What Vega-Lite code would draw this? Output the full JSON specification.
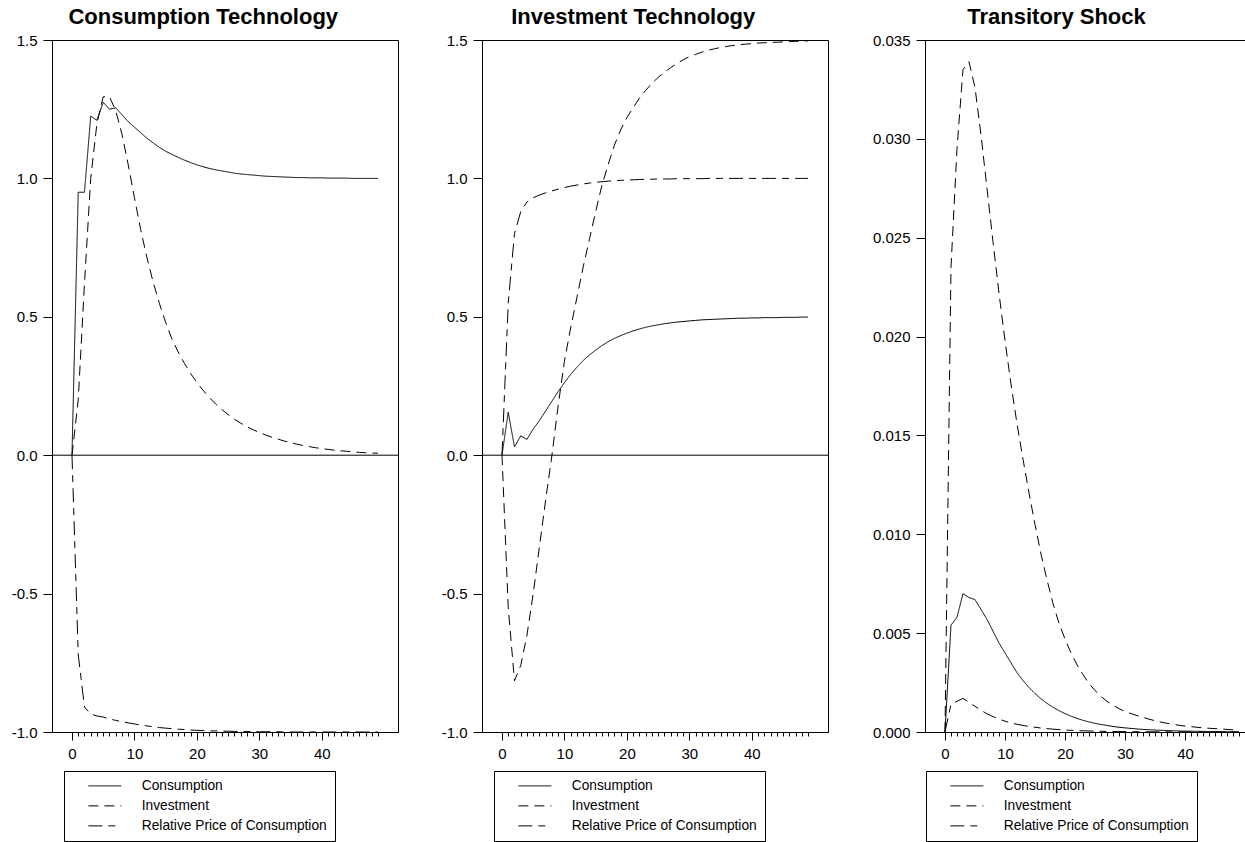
{
  "$schema": "https://vega.github.io/schema/vega-lite/v6.json",
  "padding": {"left": 7, "top": 5, "right": 0, "bottom": 0},
  "background": "white",
  "config": {
    "view": {"stroke": "black", "strokeWidth": 1},
    "font": "Liberation Sans",
    "axis": {"domainColor": "black", "tickColor": "black", "labelColor": "black", "grid": false, "title": null, "labelFontSize": 15, "labelFont": "Liberation Sans", "domainWidth": 1, "tickWidth": 1},
    "title": {"fontSize": 22, "fontWeight": "bold", "font": "Liberation Sans", "color": "black", "anchor": "middle", "frame": "bounds", "offset": 4},
    "legend": {"orient": "none", "legendY": 731, "direction": "vertical", "title": null, "strokeColor": "black", "fillColor": "white", "padding": 8, "symbolType": "M-3,0L3,0", "symbolSize": 121, "symbolStrokeWidth": 1, "symbolStrokeColor": "black", "symbolOffset": 26, "labelOffset": 30, "labelFontSize": 13.75, "labelFont": "Liberation Sans", "labelColor": "black", "labelLimit": 400, "rowPadding": 5}
  },
  "datasets": {
    "ct": [
      {"t":0,"C":0,"I":0,"R":0},{"t":1,"C":0.95,"I":0.2,"R":-0.72},{"t":2,"C":0.95,"I":0.62,"R":-0.91},{"t":3,"C":1.225,"I":1.0,"R":-0.935},{"t":4,"C":1.21,"I":1.2,"R":-0.942},{"t":5,"C":1.275,"I":1.295,"R":-0.946},{"t":6,"C":1.25,"I":1.295,"R":-0.953},{"t":7,"C":1.255,"I":1.245,"R":-0.958},{"t":8,"C":1.23,"I":1.16,"R":-0.963},{"t":9,"C":1.205,"I":1.05,"R":-0.967},
      {"t":10,"C":1.185,"I":0.93,"R":-0.971},{"t":11,"C":1.165,"I":0.815,"R":-0.975},{"t":12,"C":1.145,"I":0.714,"R":-0.978},{"t":13,"C":1.128,"I":0.625,"R":-0.981},{"t":14,"C":1.112,"I":0.548,"R":-0.984},{"t":15,"C":1.098,"I":0.48,"R":-0.986},{"t":16,"C":1.087,"I":0.42,"R":-0.988},{"t":17,"C":1.076,"I":0.373,"R":-0.99},{"t":18,"C":1.066,"I":0.332,"R":-0.991},{"t":19,"C":1.057,"I":0.295,"R":-0.993},
      {"t":20,"C":1.049,"I":0.263,"R":-0.994},{"t":21,"C":1.042,"I":0.234,"R":-0.995},{"t":22,"C":1.036,"I":0.208,"R":-0.996},{"t":23,"C":1.031,"I":0.185,"R":-0.996},{"t":24,"C":1.027,"I":0.165,"R":-0.997},{"t":25,"C":1.023,"I":0.147,"R":-0.997},{"t":26,"C":1.019,"I":0.13,"R":-0.998},{"t":27,"C":1.016,"I":0.116,"R":-0.998},{"t":28,"C":1.014,"I":0.103,"R":-0.998},{"t":29,"C":1.012,"I":0.092,"R":-0.999},
      {"t":30,"C":1.01,"I":0.082,"R":-0.999},{"t":31,"C":1.008,"I":0.073,"R":-0.999},{"t":32,"C":1.007,"I":0.065,"R":-0.999},{"t":33,"C":1.006,"I":0.058,"R":-0.999},{"t":34,"C":1.005,"I":0.051,"R":-1},{"t":35,"C":1.004,"I":0.045,"R":-1},{"t":36,"C":1.003,"I":0.04,"R":-1},{"t":37,"C":1.003,"I":0.035,"R":-1},{"t":38,"C":1.002,"I":0.031,"R":-1},{"t":39,"C":1.002,"I":0.027,"R":-1},
      {"t":40,"C":1.002,"I":0.024,"R":-1},{"t":41,"C":1.001,"I":0.021,"R":-1},{"t":42,"C":1.001,"I":0.018,"R":-1},{"t":43,"C":1.001,"I":0.016,"R":-1},{"t":44,"C":1.001,"I":0.014,"R":-1},{"t":45,"C":1.0,"I":0.012,"R":-1},{"t":46,"C":1.0,"I":0.01,"R":-1},{"t":47,"C":1.0,"I":0.009,"R":-1},{"t":48,"C":1.0,"I":0.008,"R":-1},{"t":49,"C":1.0,"I":0.007,"R":-1}
    ],
    "it": [
      {"t":0,"C":0,"I":0,"R":0},{"t":1,"C":0.155,"I":-0.55,"R":0.55},{"t":2,"C":0.03,"I":-0.815,"R":0.8},{"t":3,"C":0.07,"I":-0.76,"R":0.88},{"t":4,"C":0.057,"I":-0.65,"R":0.915},{"t":5,"C":0.095,"I":-0.5,"R":0.93},{"t":6,"C":0.125,"I":-0.33,"R":0.94},{"t":7,"C":0.16,"I":-0.16,"R":0.948},{"t":8,"C":0.195,"I":0.0,"R":0.955},{"t":9,"C":0.23,"I":0.18,"R":0.961},
      {"t":10,"C":0.262,"I":0.34,"R":0.967},{"t":11,"C":0.292,"I":0.46,"R":0.972},{"t":12,"C":0.318,"I":0.57,"R":0.976},{"t":13,"C":0.342,"I":0.68,"R":0.98},{"t":14,"C":0.362,"I":0.78,"R":0.983},{"t":15,"C":0.38,"I":0.88,"R":0.986},{"t":16,"C":0.396,"I":0.975,"R":0.988},{"t":17,"C":0.41,"I":1.05,"R":0.99},{"t":18,"C":0.422,"I":1.12,"R":0.992},{"t":19,"C":0.432,"I":1.175,"R":0.993},
      {"t":20,"C":0.441,"I":1.22,"R":0.994},{"t":21,"C":0.449,"I":1.255,"R":0.995},{"t":22,"C":0.456,"I":1.29,"R":0.996},{"t":23,"C":0.462,"I":1.318,"R":0.997},{"t":24,"C":0.467,"I":1.343,"R":0.997},{"t":25,"C":0.471,"I":1.365,"R":0.998},{"t":26,"C":0.475,"I":1.383,"R":0.998},{"t":27,"C":0.478,"I":1.4,"R":0.998},{"t":28,"C":0.481,"I":1.415,"R":0.999},{"t":29,"C":0.483,"I":1.428,"R":0.999},
      {"t":30,"C":0.485,"I":1.44,"R":0.999},{"t":31,"C":0.487,"I":1.448,"R":0.999},{"t":32,"C":0.489,"I":1.456,"R":0.999},{"t":33,"C":0.49,"I":1.463,"R":1},{"t":34,"C":0.491,"I":1.468,"R":1},{"t":35,"C":0.492,"I":1.473,"R":1},{"t":36,"C":0.493,"I":1.477,"R":1},{"t":37,"C":0.494,"I":1.48,"R":1},{"t":38,"C":0.495,"I":1.483,"R":1},{"t":39,"C":0.495,"I":1.485,"R":1},
      {"t":40,"C":0.496,"I":1.487,"R":1},{"t":41,"C":0.496,"I":1.489,"R":1},{"t":42,"C":0.497,"I":1.49,"R":1},{"t":43,"C":0.497,"I":1.491,"R":1},{"t":44,"C":0.497,"I":1.492,"R":1},{"t":45,"C":0.498,"I":1.493,"R":1},{"t":46,"C":0.498,"I":1.494,"R":1},{"t":47,"C":0.498,"I":1.495,"R":1},{"t":48,"C":0.499,"I":1.496,"R":1},{"t":49,"C":0.499,"I":1.497,"R":1}
    ],
    "ts": [
      {"t":0,"C":0,"I":0,"R":0},{"t":1,"C":0.0054,"I":0.0235,"R":0.0014},{"t":2,"C":0.0058,"I":0.0295,"R":0.00155},{"t":3,"C":0.007,"I":0.0335,"R":0.0017},{"t":4,"C":0.0068,"I":0.0339,"R":0.0015},{"t":5,"C":0.0067,"I":0.0326,"R":0.0013},{"t":6,"C":0.0062,"I":0.0302,"R":0.0011},{"t":7,"C":0.0057,"I":0.0275,"R":0.00092},{"t":8,"C":0.0051,"I":0.0248,"R":0.00078},{"t":9,"C":0.0045,"I":0.0222,"R":0.00065},
      {"t":10,"C":0.004,"I":0.0198,"R":0.00055},{"t":11,"C":0.0035,"I":0.0176,"R":0.00046},{"t":12,"C":0.003,"I":0.0156,"R":0.00039},{"t":13,"C":0.0026,"I":0.0138,"R":0.00033},{"t":14,"C":0.00225,"I":0.0121,"R":0.00028},{"t":15,"C":0.00195,"I":0.0105,"R":0.00024},{"t":16,"C":0.00168,"I":0.009,"R":0.0002},{"t":17,"C":0.00145,"I":0.0077,"R":0.00017},{"t":18,"C":0.00125,"I":0.0065,"R":0.000145},{"t":19,"C":0.00108,"I":0.0055,"R":0.00012},
      {"t":20,"C":0.00093,"I":0.0047,"R":0.0001},{"t":21,"C":0.0008,"I":0.004,"R":0.000085},{"t":22,"C":0.00069,"I":0.0034,"R":0.000072},{"t":23,"C":0.00059,"I":0.0029,"R":0.00006},{"t":24,"C":0.00051,"I":0.00245,"R":0.000051},{"t":25,"C":0.00044,"I":0.0021,"R":0.000043},{"t":26,"C":0.00038,"I":0.0018,"R":0.000036},{"t":27,"C":0.00033,"I":0.00155,"R":0.00003},{"t":28,"C":0.00028,"I":0.00135,"R":0.000026},{"t":29,"C":0.00024,"I":0.00118,"R":0.000022},
      {"t":30,"C":0.00021,"I":0.00104,"R":0.000018},{"t":31,"C":0.00018,"I":0.00093,"R":0.000015},{"t":32,"C":0.000155,"I":0.00083,"R":0.000013},{"t":33,"C":0.00013,"I":0.00074,"R":0.000011},{"t":34,"C":0.000115,"I":0.00065,"R":0.00001},{"t":35,"C":0.0001,"I":0.00057,"R":0.000009},{"t":36,"C":0.000085,"I":0.0005,"R":0.000008},{"t":37,"C":0.000073,"I":0.00044,"R":0.000007},{"t":38,"C":0.000063,"I":0.00039,"R":0.000006},{"t":39,"C":0.000054,"I":0.00034,"R":0.000005},
      {"t":40,"C":0.000047,"I":0.0003,"R":0.000005},{"t":41,"C":0.00004,"I":0.00027,"R":0.000004},{"t":42,"C":0.000035,"I":0.00024,"R":0.000004},{"t":43,"C":0.00003,"I":0.00021,"R":0.000003},{"t":44,"C":0.000026,"I":0.00019,"R":0.000003},{"t":45,"C":0.000022,"I":0.00017,"R":0.000003},{"t":46,"C":0.000019,"I":0.00015,"R":0.000002},{"t":47,"C":0.000016,"I":0.00013,"R":0.000002},{"t":48,"C":0.000014,"I":0.00011,"R":0.000002},{"t":49,"C":0.000012,"I":0.0001,"R":0.000002}
    ]
  },
  "spacing": 38,
  "resolve": {"scale": {"x": "independent", "y": "independent"}, "legend": {"strokeDash": "independent"}},
  "hconcat": [
    {
      "width": 346, "height": 692,
      "title": "Consumption Technology",
      "layer": [
        {
          "data": {"name": "ct"},
          "transform": [{"fold": ["C", "I", "R"], "as": ["series", "value"]}],
          "mark": {"type": "line", "stroke": "black", "strokeWidth": 1},
          "encoding": {
            "x": {"field": "t", "type": "quantitative", "scale": {"domain": [-3.2, 52.2], "nice": false, "zero": false},
                  "axis": {"values": [0,1,2,3,4,5,6,7,8,9,10,11,12,13,14,15,16,17,18,19,20,21,22,23,24,25,26,27,28,29,30,31,32,33,34,35,36,37,38,39,40,41,42,43,44,45,46,47,48,49], "labelExpr": "datum.value % 10 === 0 ? datum.label : ''", "tickSize": {"condition": {"test": "datum.value % 10 === 0", "value": 8}, "value": 4}, "labelPadding": 6, "labelOverlap": false, "labelFlush": false}},
            "y": {"field": "value", "type": "quantitative", "scale": {"domain": [-1, 1.5], "nice": false, "zero": false},
                  "axis": {"values": [-1, -0.5, 0, 0.5, 1, 1.5], "labelExpr": "(datum.value < 0 ? '-' : '') + format(abs(datum.value), '.1f')", "tickSize": 9, "labelPadding": 6, "minExtent": 44, "maxExtent": 44}},
            "strokeDash": {"field": "series", "type": "nominal", "scale": {"domain": ["C", "I", "R"], "range": [[1, 0], [10, 6], [14, 6, 7, 6]]},
                  "legend": {"legendX": 12, "labelExpr": "datum.label == 'C' ? 'Consumption' : datum.label == 'I' ? 'Investment' : 'Relative Price of Consumption'"}}
          }
        },
        {
          "data": {"values": [{}]},
          "mark": {"type": "rule", "stroke": "black", "strokeWidth": 1},
          "encoding": {"y": {"datum": 0}}
        }
      ]
    },
    {
      "width": 346, "height": 692,
      "title": "Investment Technology",
      "layer": [
        {
          "data": {"name": "it"},
          "transform": [{"fold": ["C", "I", "R"], "as": ["series", "value"]}],
          "mark": {"type": "line", "stroke": "black", "strokeWidth": 1},
          "encoding": {
            "x": {"field": "t", "type": "quantitative", "scale": {"domain": [-3.2, 52.2], "nice": false, "zero": false},
                  "axis": {"values": [0,1,2,3,4,5,6,7,8,9,10,11,12,13,14,15,16,17,18,19,20,21,22,23,24,25,26,27,28,29,30,31,32,33,34,35,36,37,38,39,40,41,42,43,44,45,46,47,48,49], "labelExpr": "datum.value % 10 === 0 ? datum.label : ''", "tickSize": {"condition": {"test": "datum.value % 10 === 0", "value": 8}, "value": 4}, "labelPadding": 6, "labelOverlap": false, "labelFlush": false}},
            "y": {"field": "value", "type": "quantitative", "scale": {"domain": [-1, 1.5], "nice": false, "zero": false},
                  "axis": {"values": [-1, -0.5, 0, 0.5, 1, 1.5], "labelExpr": "(datum.value < 0 ? '-' : '') + format(abs(datum.value), '.1f')", "tickSize": 9, "labelPadding": 6, "minExtent": 44, "maxExtent": 44}},
            "strokeDash": {"field": "series", "type": "nominal", "scale": {"domain": ["C", "I", "R"], "range": [[1, 0], [10, 6], [14, 6, 7, 6]]},
                  "legend": {"legendX": 12, "labelExpr": "datum.label == 'C' ? 'Consumption' : datum.label == 'I' ? 'Investment' : 'Relative Price of Consumption'"}}
          }
        },
        {
          "data": {"values": [{}]},
          "mark": {"type": "rule", "stroke": "black", "strokeWidth": 1},
          "encoding": {"y": {"datum": 0}}
        }
      ]
    },
    {
      "width": 320, "height": 692,
      "title": "Transitory Shock",
      "data": {"name": "ts"},
      "transform": [{"fold": ["C", "I", "R"], "as": ["series", "value"]}],
      "mark": {"type": "line", "stroke": "black", "strokeWidth": 1},
      "encoding": {
        "x": {"field": "t", "type": "quantitative", "scale": {"domain": [-3.33, 50], "nice": false, "zero": false},
              "axis": {"values": [0,1,2,3,4,5,6,7,8,9,10,11,12,13,14,15,16,17,18,19,20,21,22,23,24,25,26,27,28,29,30,31,32,33,34,35,36,37,38,39,40,41,42,43,44,45,46,47,48,49], "labelExpr": "datum.value % 10 === 0 ? datum.label : ''", "tickSize": {"condition": {"test": "datum.value % 10 === 0", "value": 8}, "value": 4}, "labelPadding": 6, "labelOverlap": false, "labelFlush": false}},
        "y": {"field": "value", "type": "quantitative", "scale": {"domain": [0, 0.035], "nice": false, "zero": false},
              "axis": {"values": [0, 0.005, 0.01, 0.015, 0.02, 0.025, 0.03, 0.035], "format": ".3f", "tickSize": 9, "labelPadding": 6, "minExtent": 57, "maxExtent": 57}},
        "strokeDash": {"field": "series", "type": "nominal", "scale": {"domain": ["C", "I", "R"], "range": [[1, 0], [10, 6], [14, 6, 7, 6]]},
              "legend": {"legendX": 1, "labelExpr": "datum.label == 'C' ? 'Consumption' : datum.label == 'I' ? 'Investment' : 'Relative Price of Consumption'"}}
      }
    }
  ]
}
